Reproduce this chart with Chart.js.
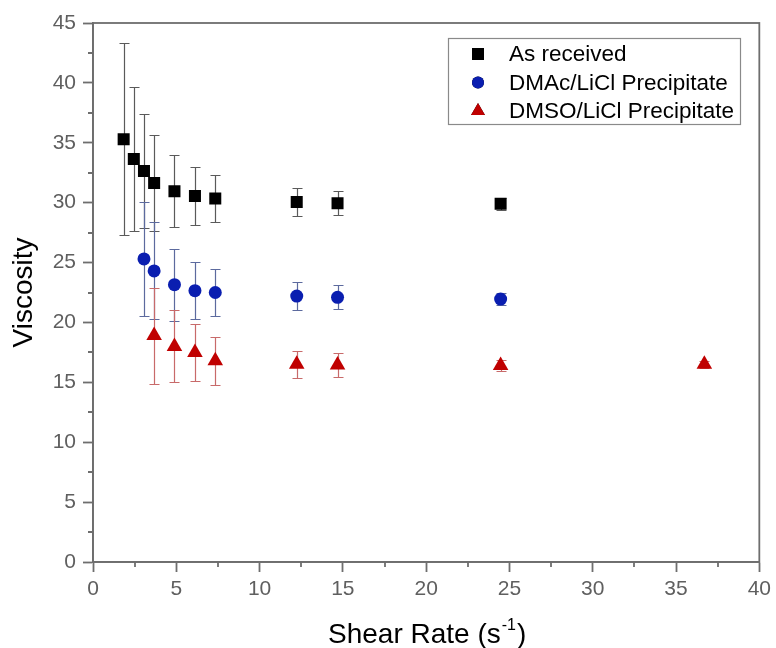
<!DOCTYPE html>
<html>
<head>
<meta charset="utf-8">
<script src="https://cdn.jsdelivr.net/npm/chart.js@4.4.1/dist/chart.umd.min.js"></script>
<style>
  html, body { margin: 0; padding: 0; background: #fff; }
  #wrap { width: 776px; height: 648px; }
</style>
</head>
<body>
<div id="wrap"><canvas id="chart1" width="776" height="648"></canvas></div>
<script>
// shear rates (s^-1) for each series
var xAsReceived = [1.84, 2.45, 3.06, 3.67, 4.89, 6.12, 7.34, 12.23, 14.68, 24.47];
var xDMAc = [3.06, 3.67, 4.89, 6.12, 7.34, 12.23, 14.68, 24.47];
var xDMSO = [3.67, 4.89, 6.12, 7.34, 12.23, 14.68, 24.47, 36.7];

// viscosity values and their standard deviations
var asReceived = [35.3, 33.65, 32.65, 31.65, 30.95, 30.55, 30.35, 30.05, 29.95, 29.9];
var asReceivedErr = [8.0, 6.0, 4.75, 4.0, 3.0, 2.4, 2.0, 1.2, 1.0, 0.5];
var dmac = [25.3, 24.3, 23.15, 22.65, 22.5, 22.2, 22.1, 21.95];
var dmacErr = [4.75, 4.05, 3.0, 2.4, 2.0, 1.2, 1.0, 0.5];
var dmso = [18.9, 18.0, 17.5, 16.8, 16.5, 16.45, 16.4, 16.5];
var dmsoErr = [4.0, 3.0, 2.4, 2.0, 1.15, 1.0, 0.45, 0.3];

var seriesNames = ['As received', 'DMAc/LiCl Precipitate', 'DMSO/LiCl Precipitate'];

var axisGray = '#6e6e6e';
var labelGray = '#5f5f5f';
var fontFamily = '"Liberation Sans", Arial, sans-serif';

function points(xs, ys, errs) {
  return xs.map(function (x, i) { return { x: x, y: ys[i], err: errs[i] }; });
}

// draws vertical error bars with caps, behind the markers
var errorBars = {
  id: 'errorBars',
  beforeDatasetsDraw: function (chart) {
    var ctx = chart.ctx;
    var xs = chart.scales.x, ys = chart.scales.y;
    chart.data.datasets.forEach(function (ds) {
      ctx.save();
      ctx.strokeStyle = ds.errorColor;
      ctx.lineWidth = 1.2;
      ds.data.forEach(function (p) {
        var px = Math.round(xs.getPixelForValue(p.x)) + 0.5;
        var top = Math.round(ys.getPixelForValue(p.y + p.err)) + 0.5;
        var bot = Math.round(ys.getPixelForValue(p.y - p.err)) + 0.5;
        ctx.beginPath();
        ctx.moveTo(px, top); ctx.lineTo(px, bot);
        ctx.moveTo(px - 5, top); ctx.lineTo(px + 5, top);
        ctx.moveTo(px - 5, bot); ctx.lineTo(px + 5, bot);
        ctx.stroke();
      });
      ctx.restore();
    });
  }
};

// frame, minor ticks, axis titles and the inset legend
var decorations = {
  id: 'decorations',
  afterDraw: function (chart) {
    var ctx = chart.ctx;
    var a = chart.chartArea;
    var xs = chart.scales.x, ys = chart.scales.y;
    ctx.save();
    ctx.strokeStyle = axisGray;
    ctx.lineWidth = 1.8;
    ctx.strokeRect(a.left, a.top, a.right - a.left, a.bottom - a.top);

    // minor ticks
    ctx.lineWidth = 1.8;
    ctx.beginPath();
    for (var v = 2.5; v < 40; v += 5) {
      var px = Math.round(xs.getPixelForValue(v));
      ctx.moveTo(px, a.bottom); ctx.lineTo(px, a.bottom + 5);
    }
    for (var w = 2.5; w < 45; w += 5) {
      var py = Math.round(ys.getPixelForValue(w));
      ctx.moveTo(a.left, py); ctx.lineTo(a.left - 5, py);
    }
    ctx.stroke();

    // y axis title
    ctx.fillStyle = '#000';
    ctx.save();
    ctx.translate(24, (a.top + a.bottom) / 2);
    ctx.rotate(-Math.PI / 2);
    ctx.font = '28px ' + fontFamily;
    ctx.textAlign = 'center';
    ctx.textBaseline = 'middle';
    ctx.fillText('Viscosity', 0, 0);
    ctx.restore();

    // x axis title: Shear Rate (s^-1)
    ctx.textBaseline = 'alphabetic';
    var bigFont = '28px ' + fontFamily;
    var supFont = '16px ' + fontFamily;
    ctx.font = bigFont;
    var p1 = 'Shear Rate (s', p3 = ')';
    var w1 = ctx.measureText(p1).width, w3 = ctx.measureText(p3).width;
    ctx.font = supFont;
    var sup = '-1';
    var w2 = ctx.measureText(sup).width;
    var cx = (a.left + a.right) / 2;
    var x0 = cx - (w1 + w2 + w3) / 2;
    var base = 643;
    ctx.font = bigFont;
    ctx.fillText(p1, x0, base);
    ctx.font = supFont;
    ctx.fillText(sup, x0 + w1 + 1, base - 13);
    ctx.font = bigFont;
    ctx.fillText(p3, x0 + w1 + w2 + 2, base);

    // legend box
    var lx = 448, ly = 38, lw = 292, lh = 86;
    ctx.fillStyle = '#fff';
    ctx.fillRect(lx, ly, lw, lh);
    ctx.strokeStyle = '#8a8a8a';
    ctx.lineWidth = 1.2;
    ctx.strokeRect(lx + 0.5, ly + 0.5, lw, lh);
    ctx.font = '22.5px ' + fontFamily;
    ctx.textBaseline = 'middle';
    chart.data.datasets.forEach(function (ds, i) {
      var rowY = ly + 16 + i * 28.5;
      Chart.helpers.drawPoint(ctx, {
        pointStyle: ds.pointStyle,
        radius: ds.legendRadius,
        rotation: 0,
        borderWidth: 0
      }, lx + 30, rowY);
      ctx.fillStyle = ds.backgroundColor;
      ctx.fill();
      ctx.fillStyle = '#000';
      ctx.fillText(ds.label, lx + 61, rowY + 1);
    });
    ctx.restore();
  }
};

var ctx1 = document.getElementById('chart1');

var tickFont = { family: fontFamily, size: 21 };
var axisGrid = {
  drawOnChartArea: false,
  drawTicks: true,
  tickLength: 10,
  tickWidth: 1.8,
  tickColor: axisGray
};

new Chart(ctx1, {
  type: 'scatter',
  data: {
    datasets: [{
      label: seriesNames[0],
      data: points(xAsReceived, asReceived, asReceivedErr),
      pointStyle: 'rect',
      pointRadius: 8.5,
      backgroundColor: '#000000',
      borderWidth: 0,
      errorColor: '#5a5a5a',
      legendRadius: 8.5
    }, {
      label: seriesNames[1],
      data: points(xDMAc, dmac, dmacErr),
      pointStyle: 'circle',
      pointRadius: 6.5,
      backgroundColor: '#0a1eb0',
      borderWidth: 0,
      errorColor: '#5c6a9e',
      legendRadius: 6
    }, {
      label: seriesNames[2],
      data: points(xDMSO, dmso, dmsoErr),
      pointStyle: 'triangle',
      pointRadius: 9,
      backgroundColor: '#c00000',
      borderWidth: 0,
      errorColor: '#c86a6a',
      legendRadius: 8
    }]
  },
  options: {
    responsive: false,
    animation: false,
    devicePixelRatio: 1,
    layout: { padding: { left: 0, top: 23, right: 14, bottom: 0 } },
    plugins: {
      legend: { display: false },
      tooltip: { enabled: false }
    },
    scales: {
      x: {
        type: 'linear',
        min: 0,
        max: 40,
        afterFit: function (scale) { scale.height = 86; },
        ticks: { stepSize: 5, color: labelGray, padding: 5, font: tickFont },
        grid: axisGrid,
        border: { color: axisGray, width: 1.8 }
      },
      y: {
        type: 'linear',
        min: 0,
        max: 45,
        afterFit: function (scale) { scale.width = 93; },
        ticks: { stepSize: 5, color: labelGray, padding: 7, font: tickFont },
        grid: axisGrid,
        border: { color: axisGray, width: 1.8 }
      }
    }
  },
  plugins: [errorBars, decorations]
});
</script>
</body>
</html>
